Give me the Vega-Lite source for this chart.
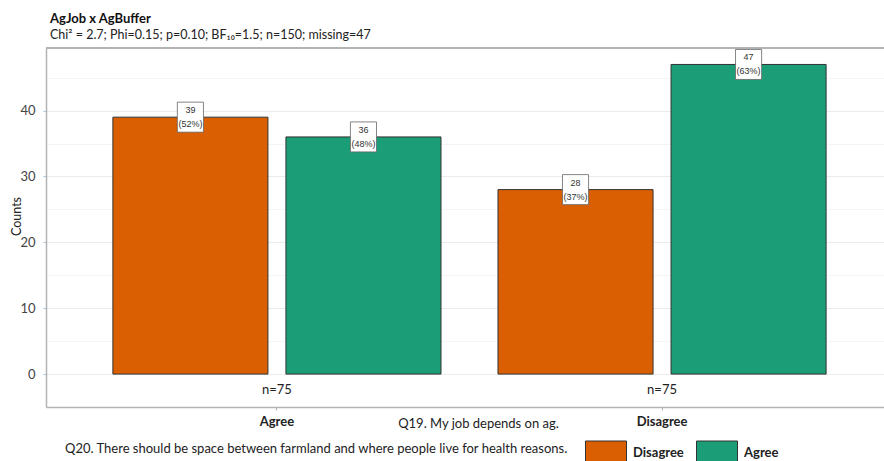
{
  "$schema": "https://vega.github.io/schema/vega-lite/v6.json",
  "autosize": {"type": "none"},
  "width": 838,
  "height": 359,
  "padding": {"left": 46, "top": 48, "right": 0, "bottom": 54},
  "background": "white",
  "config": {
    "font": "Lato",
    "view": {"stroke": null},
    "axis": {"labelFont": "Lato", "titleFont": "Lato"}
  },
  "title": {
    "text": "AgJob x AgBuffer",
    "subtitle": "Chi² = 2.7; Phi=0.15; p=0.10; BF₁₀=1.5; n=150; missing=47",
    "anchor": "start",
    "frame": "group",
    "dx": 4,
    "offset": 6,
    "fontSize": 13,
    "fontWeight": "bold",
    "color": "#111",
    "subtitleFontSize": 12.5,
    "subtitleColor": "#222",
    "subtitlePadding": 3
  },
  "data": {
    "values": [
      {"job": "Agree", "buf": "Disagree", "n": 39, "pct": "(52%)", "ntot": "n=75"},
      {"job": "Agree", "buf": "Agree", "n": 36, "pct": "(48%)", "ntot": "n=75"},
      {"job": "Disagree", "buf": "Disagree", "n": 28, "pct": "(37%)", "ntot": "n=75"},
      {"job": "Disagree", "buf": "Agree", "n": 47, "pct": "(63%)", "ntot": "n=75"}
    ]
  },
  "encoding": {
    "x": {
      "field": "job",
      "type": "nominal",
      "sort": ["Agree", "Disagree"],
      "scale": {"paddingInner": 0.148, "paddingOuter": 0.162, "align": 0.536},
      "axis": {
        "title": "Q19. My job depends on ag.",
        "titleFontWeight": "normal",
        "titleFontSize": 13,
        "titleColor": "#222",
        "titleBaseline": "middle",
        "titleAnchor": "middle",
        "titleX": 432,
        "titleY": 16,
        "labelAngle": 0,
        "labelFontWeight": "bold",
        "labelFontSize": 13,
        "labelColor": "#222",
        "labelPadding": 5,
        "domainColor": "#b3b3b3",
        "domainWidth": 1.5,
        "tickColor": "#b3b3b3",
        "tickSize": 3,
        "grid": false
      }
    },
    "y": {
      "field": "n",
      "type": "quantitative",
      "scale": {"domain": [-5, 49.5], "nice": false, "zero": false},
      "axis": {
        "title": "Counts",
        "titleFontWeight": "normal",
        "titleFontSize": 12.5,
        "titleColor": "#222",
        "titleBaseline": "middle",
        "titleAnchor": "middle",
        "titleX": -30,
        "titleY": 168,
        "values": [0, 5, 10, 15, 20, 25, 30, 35, 40, 45],
        "labelExpr": "datum.value % 10 == 0 ? datum.label : ''",
        "labelFontSize": 13,
        "labelColor": "#444",
        "labelPadding": 8,
        "tickSize": 3,
        "tickColor": "#a9c6e0",
        "tickOpacity": {"condition": {"test": "datum.value % 10 != 0", "value": 0}, "value": 1},
        "gridColor": {"condition": {"test": "datum.value % 10 != 0", "value": "#f4f4f4"}, "value": "#ebebeb"},
        "gridWidth": 1,
        "domainColor": "#b3b3b3",
        "domainWidth": 1.5
      }
    }
  },
  "layer": [
    {
      "mark": {"type": "rule", "color": "#b3b3b3", "strokeWidth": 1.5},
      "encoding": {"y": {"datum": 49.5}, "x": null}
    },
    {
      "mark": {"type": "bar", "stroke": "#333", "strokeWidth": 1},
      "encoding": {
        "xOffset": {"field": "buf", "type": "nominal", "sort": ["Disagree", "Agree"], "scale": {"paddingInner": 0.104, "paddingOuter": 0}},
        "color": {
          "field": "buf",
          "type": "nominal",
          "sort": ["Disagree", "Agree"],
          "scale": {"domain": ["Disagree", "Agree"], "range": ["#D95F02", "#1B9E77"]},
          "legend": {
            "title": "Q20. There should be space between farmland and where people live for health reasons.",
            "orient": "none",
            "legendX": 19,
            "legendY": 384,
            "direction": "horizontal",
            "titleOrient": "left",
            "titleLimit": 700,
            "titleFontWeight": "normal",
            "titleFontSize": 13,
            "titleColor": "#222",
            "titleBaseline": "middle",
            "titlePadding": 16,
            "labelFontWeight": "bold",
            "labelFontSize": 13,
            "labelColor": "#222",
            "labelOffset": 6,
            "columnPadding": 10,
            "symbolType": "M-1,-0.585H1V0.585H-1Z",
            "symbolSize": 1681,
            "symbolStrokeColor": "#333",
            "symbolStrokeWidth": 1,
            "symbolOpacity": 1
          }
        }
      }
    },
    {
      "mark": {"type": "point", "shape": "M-0.87,-1H0.87V1H-0.87Z", "size": 900, "filled": true, "fill": "white", "stroke": "#666", "strokeWidth": 0.8, "opacity": 1},
      "encoding": {"xOffset": {"field": "buf", "type": "nominal", "sort": ["Disagree", "Agree"]}}
    },
    {
      "mark": {"type": "text", "fontSize": 9, "dy": -7, "color": "#333", "font": "Liberation Sans"},
      "encoding": {"xOffset": {"field": "buf", "type": "nominal", "sort": ["Disagree", "Agree"]}, "text": {"field": "n", "type": "quantitative"}}
    },
    {
      "mark": {"type": "text", "fontSize": 9, "dy": 7, "color": "#333", "font": "Liberation Sans"},
      "encoding": {"xOffset": {"field": "buf", "type": "nominal", "sort": ["Disagree", "Agree"]}, "text": {"field": "pct", "type": "nominal"}}
    },
    {
      "transform": [{"filter": "datum.buf == 'Disagree'"}],
      "mark": {"type": "text", "fontSize": 13, "color": "#222"},
      "encoding": {
        "y": {"datum": -2.4},
        "text": {"field": "ntot", "type": "nominal"}
      }
    }
  ]
}
